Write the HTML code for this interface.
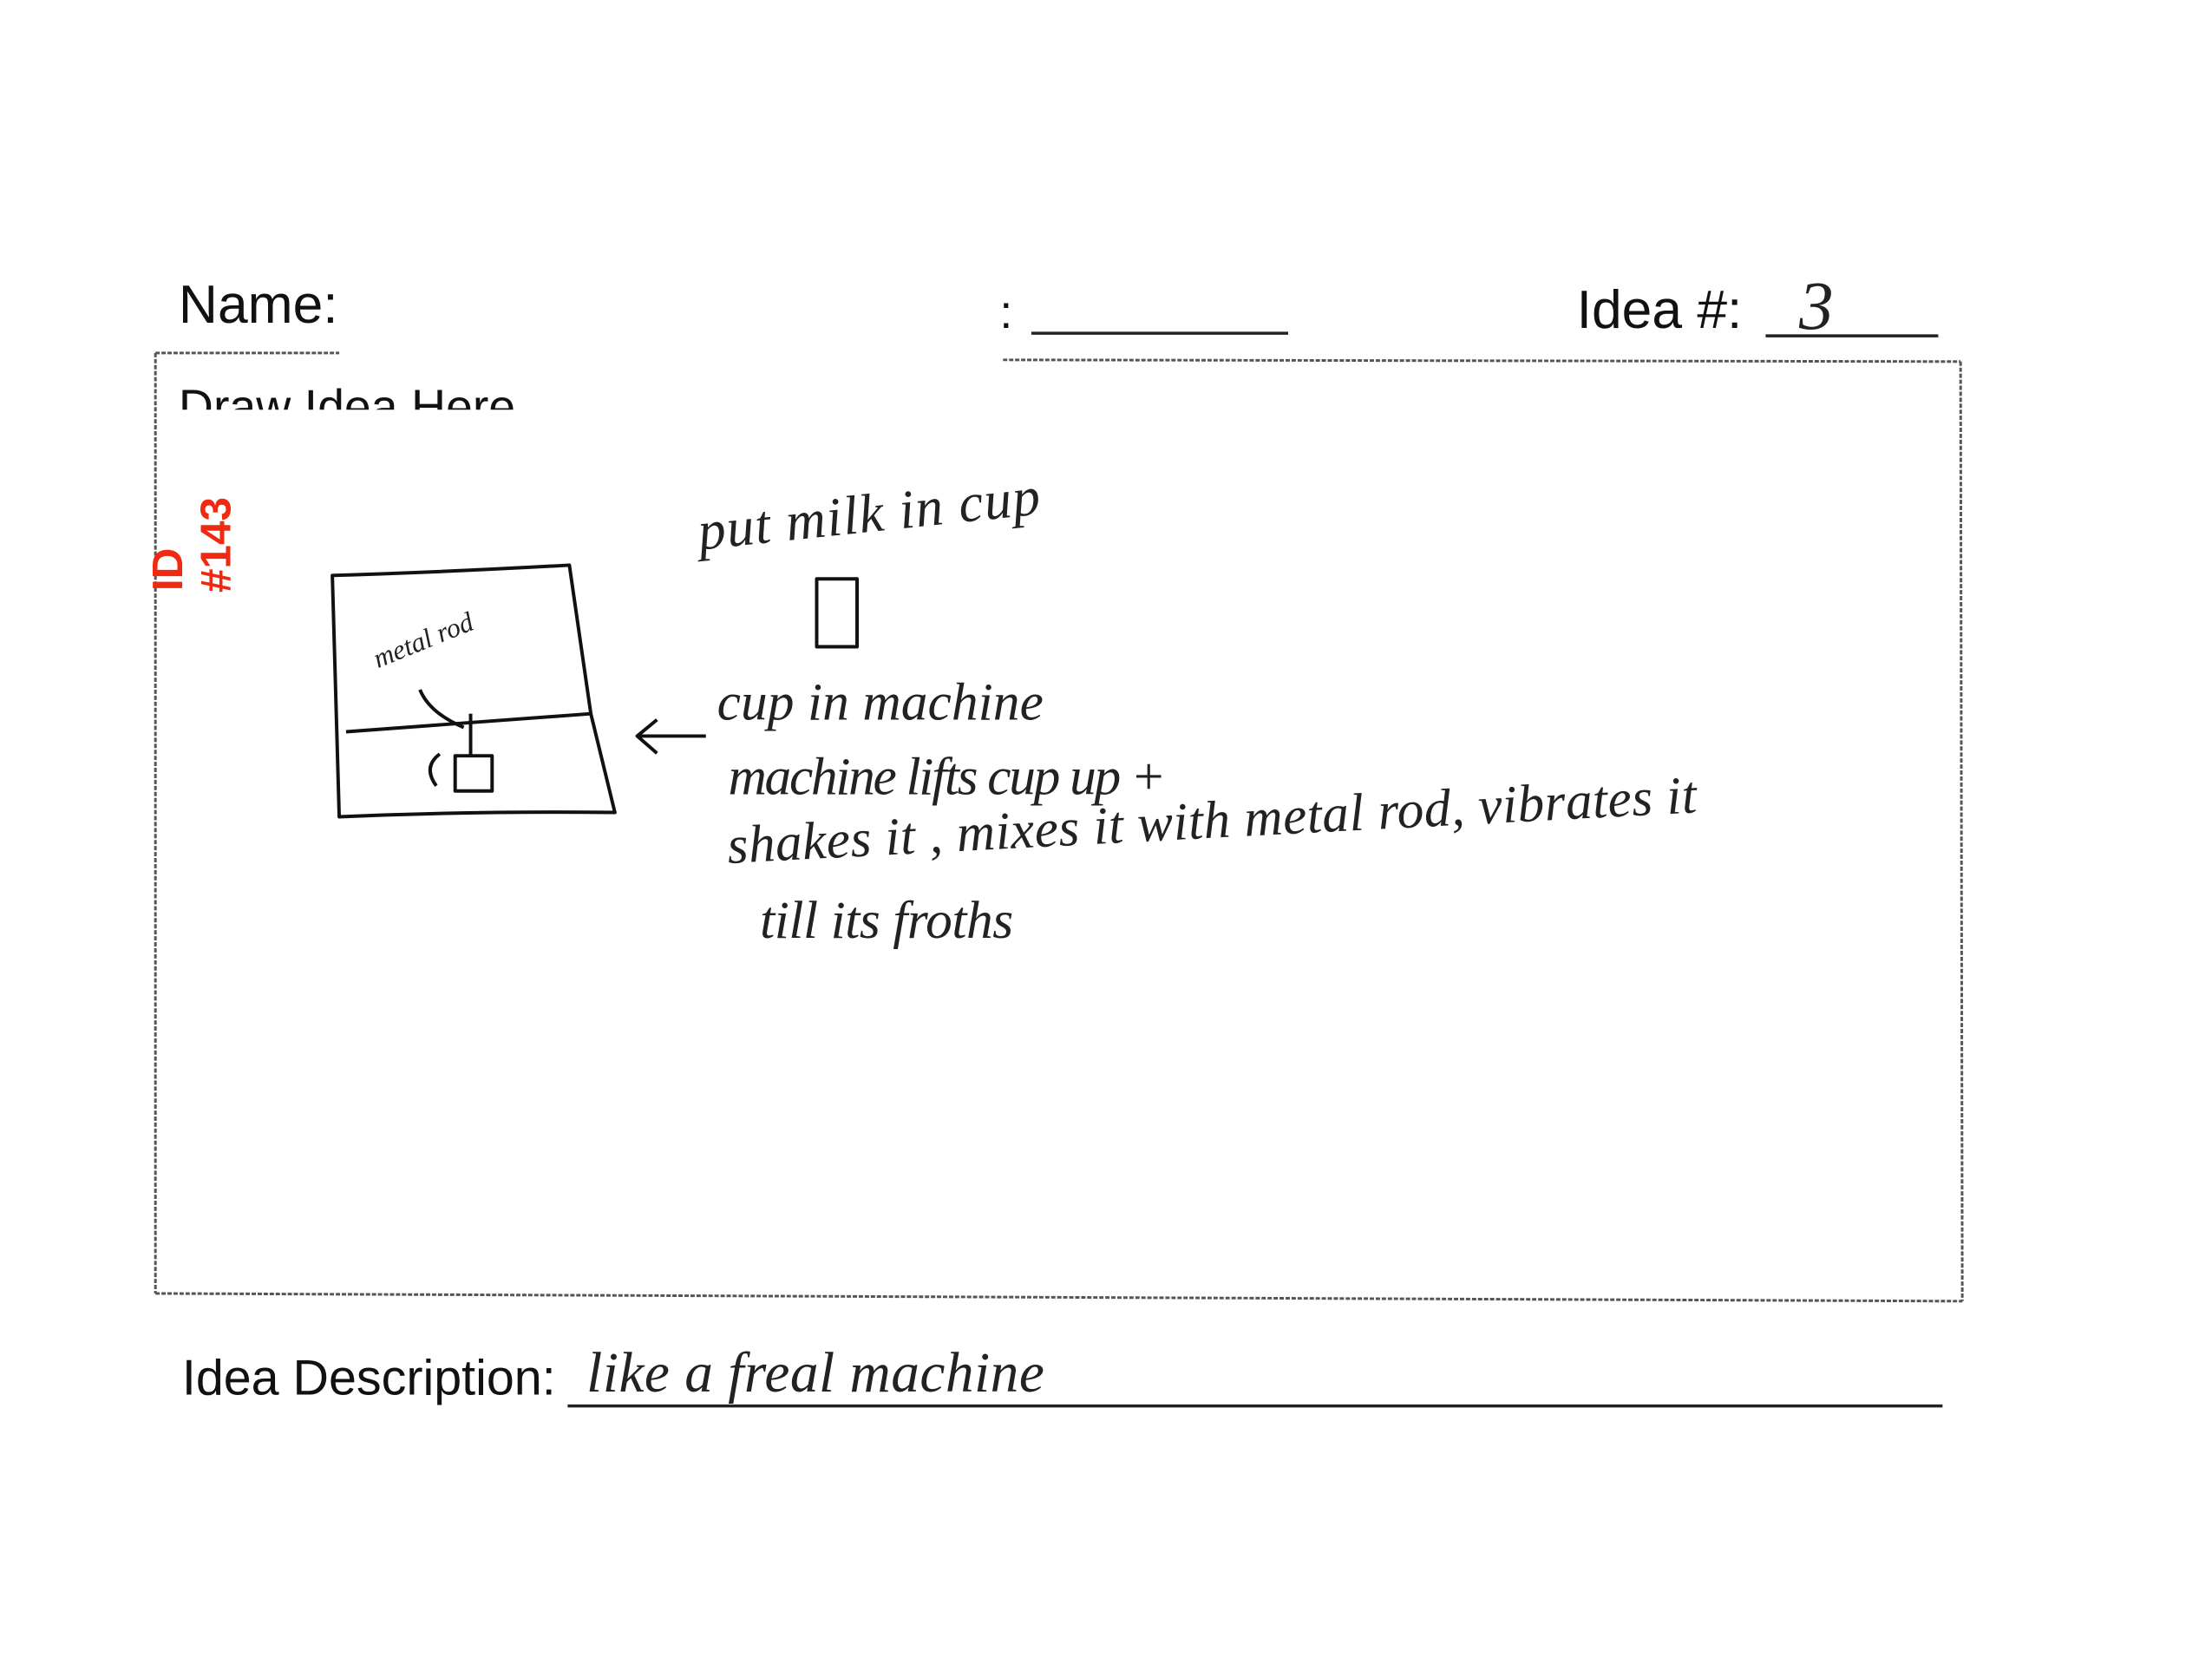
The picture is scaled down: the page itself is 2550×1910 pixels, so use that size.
<!DOCTYPE html>
<html><head><meta charset="utf-8"><style>
html,body{margin:0;padding:0;background:#fff;}
body{width:2550px;height:1910px;position:relative;overflow:hidden;}
svg{position:absolute;left:0;top:0;}
</style></head><body>
<svg width="2550" height="1910" viewBox="0 0 2550 1910" xmlns="http://www.w3.org/2000/svg">
<g transform="scale(0.99)">
<g font-family="Liberation Sans, sans-serif" fill="#111">
<text x="208" y="376" font-size="63">Name:</text>
<text x="1164" y="382" font-size="54">:</text>
<text x="1836" y="382" font-size="63">Idea #:</text>
<text x="212" y="1624" font-size="58">Idea Description:</text>
</g>
<g stroke="#222" stroke-width="3.5" fill="none">
<line x1="1201" y1="388" x2="1500" y2="388"/>
<line x1="2056" y1="391" x2="2257" y2="391"/>
<line x1="661" y1="1637" x2="2262" y2="1637"/>
</g>
<g stroke="#555" stroke-width="3" fill="none" stroke-dasharray="5 2">
<line x1="181" y1="411" x2="395" y2="411"/>
<line x1="1168" y1="419" x2="2283" y2="421"/>
<line x1="181" y1="411" x2="181" y2="1506"/>
<line x1="2283" y1="421" x2="2285" y2="1515"/>
<line x1="181" y1="1506" x2="2285" y2="1515"/>
</g>
<svg x="200" y="425" width="450" height="52"><text x="8" y="68" font-family="Liberation Sans, sans-serif" font-size="56" fill="#111">Draw Idea Here.</text></svg>
<g font-family="Liberation Sans, sans-serif" font-weight="bold" fill="#f02a10">
<text transform="translate(212,688) rotate(-90)" font-size="50">ID</text>
<text transform="translate(268,690) rotate(-90)" font-size="50">#143</text>
</g>
<g stroke="#111" stroke-width="4" fill="none" stroke-linejoin="round">
<path d="M387 670 Q520 666 663 658 L688 831 L716 946 Q560 944 395 951 Z"/>
<path d="M403 852 Q540 842 688 831"/>
<path d="M489 803 Q500 830 540 847"/>
<line x1="548" y1="831" x2="548" y2="880"/>
<rect x="530" y="880" width="43" height="41"/>
<path d="M508 915 Q492 893 512 878"/>
<rect x="951" y="674" width="47" height="79"/>
<path d="M822 857 L742 857 M765 838 L742 857 L765 877"/>
</g>
<g font-family="Liberation Serif, serif" font-style="italic" fill="#222">
<text transform="translate(440,778) rotate(-22)" font-size="32">metal rod</text>
<text transform="translate(815,640) rotate(-6)" font-size="64" textLength="400">put milk in cup</text>
<text x="835" y="838" font-size="62" textLength="380">cup in machine</text>
<text x="848" y="925" font-size="62" textLength="510">machine lifts cup up +</text>
<text transform="translate(848,1005) rotate(-3)" font-size="62" textLength="1130">shakes it , mixes it with metal rod, vibrates it</text>
<text x="885" y="1092" font-size="62" textLength="295">till its froths</text>
<text x="2095" y="383" font-size="80">3</text>
<text x="683" y="1620" font-size="66" textLength="533">like a freal machine</text>
</g>
</g>
</svg>
</body></html>
